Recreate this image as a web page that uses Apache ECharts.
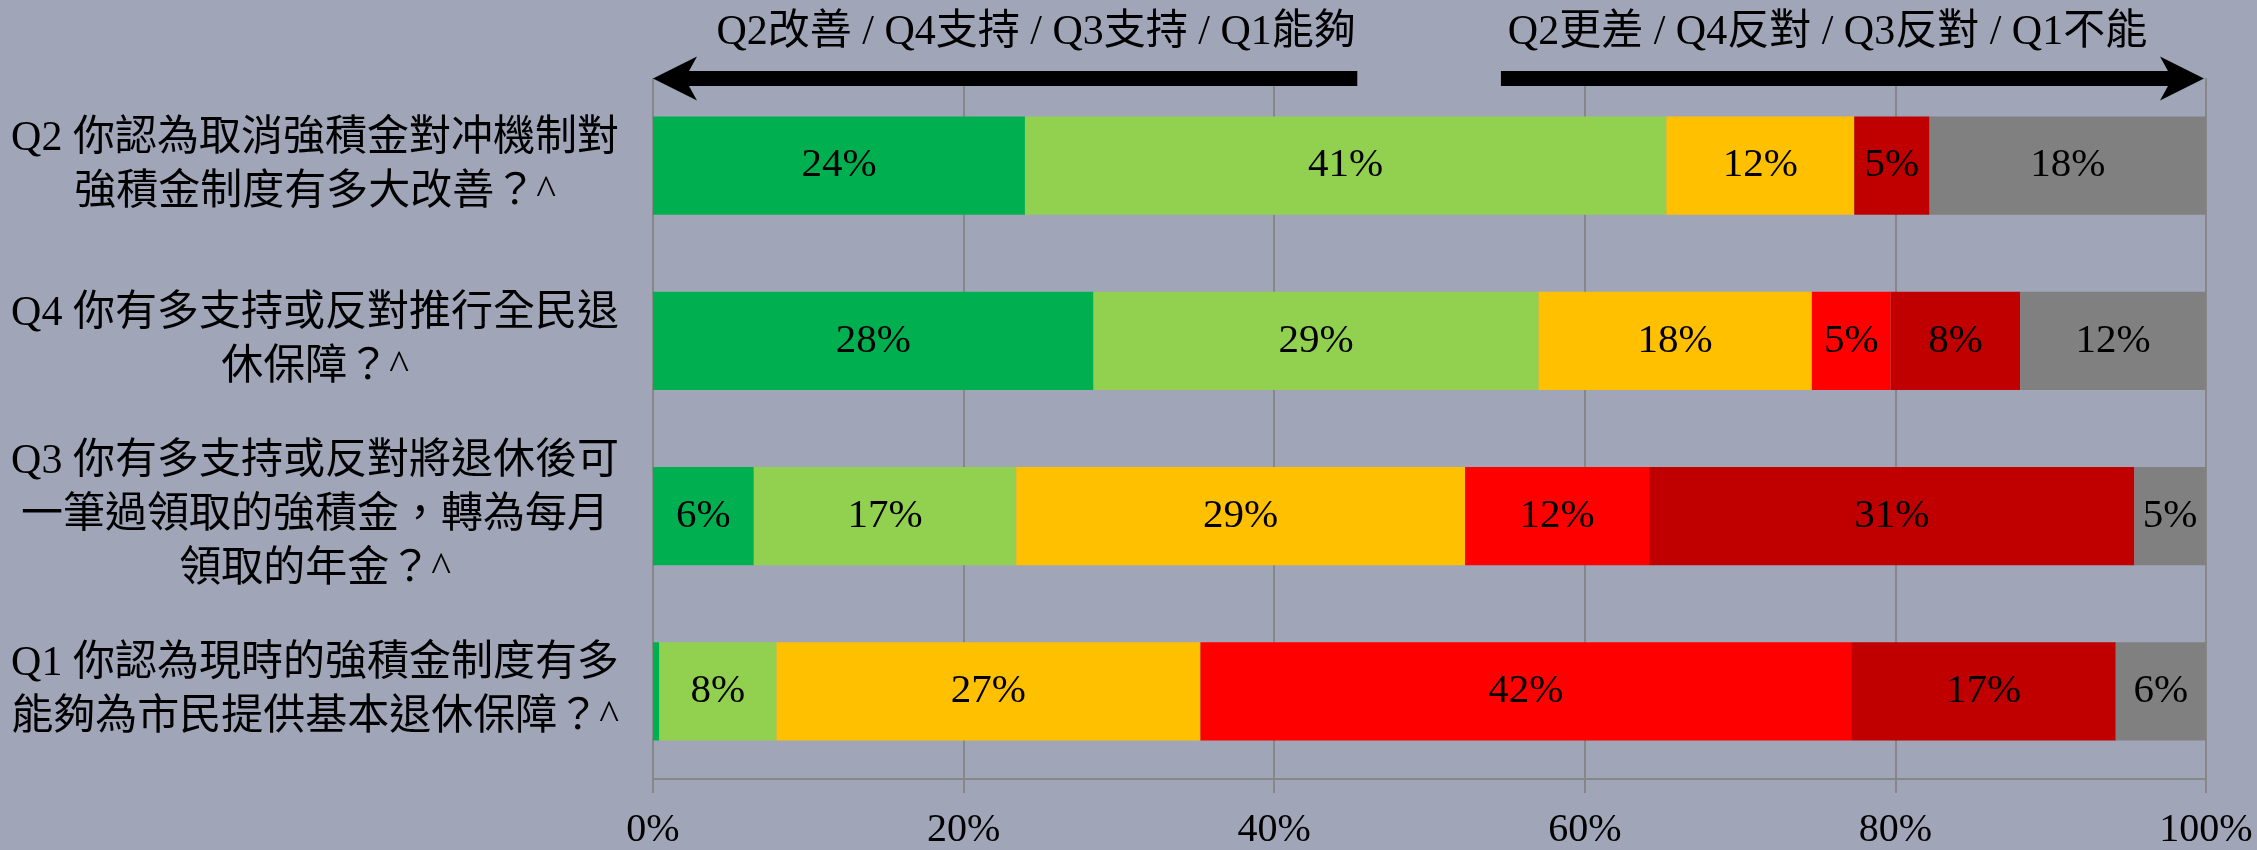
<!DOCTYPE html>
<html>
<head>
<meta charset="utf-8">
<script src="https://cdn.jsdelivr.net/npm/echarts@6/dist/echarts.min.js"></script>
<style>
  html, body { margin: 0; padding: 0; background: #a0a6b8; }
  #chart { width: 2257px; height: 850px; }
</style>
</head>
<body>
<div id="chart"></div>
<script>
// questions, top to bottom
const categories = [
  'Q2 你認為取消強積金對冲機制對\n強積金制度有多大改善？^',
  'Q4 你有多支持或反對推行全民退\n休保障？^',
  'Q3 你有多支持或反對將退休後可\n一筆過領取的強積金，轉為每月\n領取的年金？^',
  'Q1 你認為現時的強積金制度有多\n能夠為市民提供基本退休保障？^'
];

// share of answers (%), same order as categories
const darkGreenValues = [23.95, 28.36, 6.49, 0.4];
const lightGreenValues = [41.3, 28.66, 16.9, 7.55];
const yellowValues = [12.1, 17.6, 28.9, 27.3];
const redValues = [0, 5.08, 11.85, 41.9];
const darkRedValues = [4.85, 8.34, 31.25, 17.04];
const greyValues = [17.8, 11.96, 4.6, 5.8];

const xTicks = [0, 20, 40, 60, 80, 100];

const leftHeading = 'Q2改善 / Q4支持 / Q3支持 / Q1能夠';
const rightHeading = 'Q2更差 / Q4反對 / Q3反對 / Q1不能';
const leftArrowEnd = 45.35;
const rightArrowStart = 54.6;

const FONT = "'Liberation Serif', 'Noto Sans CJK TC', serif";
const GRID_COLOR = '#878787';

const chart = echarts.init(document.getElementById('chart'));

const seriesDefs = [
  { name: 'darkGreen', data: darkGreenValues, color: '#00b050' },
  { name: 'lightGreen', data: lightGreenValues, color: '#92d050' },
  { name: 'yellow', data: yellowValues, color: '#ffc000' },
  { name: 'red', data: redValues, color: '#ff0000' },
  { name: 'darkRed', data: darkRedValues, color: '#c00000' },
  { name: 'grey', data: greyValues, color: '#808080' }
];

chart.setOption({
  backgroundColor: '#a0a6b8',
  animation: false,
  grid: { left: 653, right: 51, top: 78, bottom: 67 },
  xAxis: {
    type: 'value',
    min: xTicks[0],
    max: xTicks[xTicks.length - 1],
    interval: 20,
    axisLine: { show: true, lineStyle: { color: GRID_COLOR, width: 2 } },
    axisTick: { show: true, length: 14, lineStyle: { color: GRID_COLOR, width: 2 } },
    splitLine: { show: true, lineStyle: { color: GRID_COLOR, width: 2 } },
    axisLabel: {
      formatter: '{value}%',
      color: '#000',
      fontFamily: FONT,
      fontSize: 40,
      margin: 31
    }
  },
  yAxis: {
    type: 'category',
    inverse: true,
    data: categories,
    axisLine: { show: false },
    axisTick: { show: false },
    axisLabel: {
      color: '#000',
      fontFamily: FONT,
      fontSize: 42,
      lineHeight: 54,
      align: 'center',
      margin: 338
    }
  },
  series: seriesDefs.map((s) => ({
    name: s.name,
    type: 'bar',
    stack: 'total',
    barWidth: '56%',
    data: s.data,
    itemStyle: { color: s.color },
    emphasis: { disabled: true },
    label: {
      show: true,
      position: 'inside',
      color: '#000',
      fontFamily: FONT,
      fontSize: 41,
      formatter: (p) => (p.value >= 1 ? Math.round(p.value) + '%' : '')
    }
  }))
});

// direction arrows above the plot
function drawHeadings() {
  const y = 78.5;
  const half = 7.5;
  const headLen = 44;
  const notch = 36;
  const headHalf = 22;
  const x0 = chart.convertToPixel({ xAxisIndex: 0 }, 0);
  const x1 = chart.convertToPixel({ xAxisIndex: 0 }, leftArrowEnd);
  const x2 = chart.convertToPixel({ xAxisIndex: 0 }, rightArrowStart);
  const x3 = chart.convertToPixel({ xAxisIndex: 0 }, 100) - 2;

  chart.setOption({
    graphic: [
      {
        type: 'polygon',
        shape: {
          points: [
            [x0, y], [x0 + headLen, y - headHalf], [x0 + notch, y - half],
            [x1, y - half], [x1, y + half], [x0 + notch, y + half],
            [x0 + headLen, y + headHalf]
          ]
        },
        style: { fill: '#000' }
      },
      {
        type: 'polygon',
        shape: {
          points: [
            [x3, y], [x3 - headLen, y - headHalf], [x3 - notch, y - half],
            [x2, y - half], [x2, y + half], [x3 - notch, y + half],
            [x3 - headLen, y + headHalf]
          ]
        },
        style: { fill: '#000' }
      },
      {
        type: 'text',
        x: (x0 + x1) / 2 + 31,
        y: 33,
        style: {
          text: leftHeading,
          fill: '#000',
          font: '42px ' + FONT,
          align: 'center',
          verticalAlign: 'middle'
        }
      },
      {
        type: 'text',
        x: (x2 + x3) / 2 - 25,
        y: 33,
        style: {
          text: rightHeading,
          fill: '#000',
          font: '42px ' + FONT,
          align: 'center',
          verticalAlign: 'middle'
        }
      }
    ]
  });
}

drawHeadings();
</script>
</body>
</html>
